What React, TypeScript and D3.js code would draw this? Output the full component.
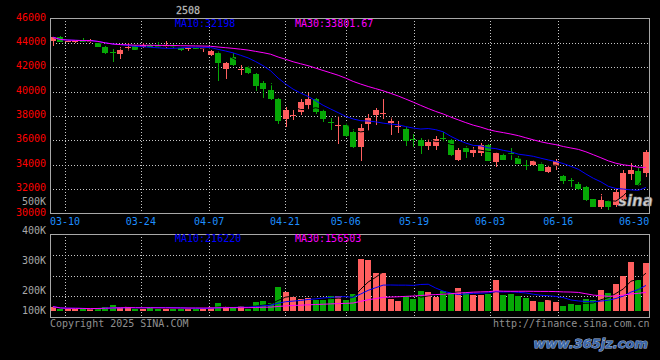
import React, { useEffect } from 'react';
import * as d3 from 'd3';

const dates = [
  '03-06','03-07','03-10','03-11','03-12','03-13','03-14','03-17','03-18','03-19','03-20','03-21','03-24','03-25','03-26','03-27','03-28','03-31',
  '04-01','04-02','04-03','04-07','04-08','04-09','04-10','04-11','04-14','04-15','04-16','04-17','04-18','04-21','04-22','04-23','04-24','04-25','04-28','04-29','04-30',
  '05-06','05-07','05-08','05-09','05-12','05-13','05-14','05-15','05-16','05-19','05-20','05-21','05-22','05-23','05-26','05-27','05-28','05-29','05-30',
  '06-03','06-04','06-05','06-06','06-09','06-10','06-11','06-12','06-13','06-16','06-17','06-18','06-19','06-20','06-23','06-24','06-25','06-26','06-27','06-30',
  '07-01','07-02'
];

const opens = [44141,44500,44100,44050,44250,44050,43950,43700,43250,43080,43570,43750,43650,43850,43800,43650,43850,43550,43550,43600,43500,42970,43190,41880,42880,41780,42010,41470,40700,40160,39420,37730,38040,38350,38880,39370,38390,37480,37200,37240,36690,35460,37320,38050,38250,37430,37130,36960,36100,36000,35520,35520,36200,36070,34430,35380,34970,34970,35600,34230,34840,35000,34590,33990,33960,34100,33410,33880,33060,32770,32460,32180,31180,30500,31010,30690,31230,33220,33470,33330];
const highs = [44500,44560,44250,44250,44400,44300,44150,43720,43500,43650,43980,43850,43950,43900,44100,44120,43900,43600,43700,43650,43650,43400,43300,42400,43200,42150,42100,41500,40840,40700,39450,38740,38520,39370,39860,39450,38550,37830,37980,37400,36900,37380,38200,38650,39370,37950,37590,37100,36500,36180,36100,36330,36690,36150,35400,35520,35460,35790,35680,35030,34940,35380,34700,34370,34370,34200,33880,34450,33140,32950,32570,32240,31220,31590,31100,32080,33550,34150,33700,35190];
const lows = [43731,44050,44050,44000,44050,44000,43650,43100,42420,42640,43300,43400,43600,43650,43600,43600,43600,43350,43300,43500,43250,42950,40840,41060,42100,41390,41450,40050,39470,39290,37380,37100,37640,38050,38530,38200,37480,36830,35740,36250,35400,34310,36770,37240,37790,36420,36600,35540,35460,34900,35250,35250,35870,34700,34300,34590,34640,34700,34290,33820,34370,34370,34040,33550,33880,33470,33300,33550,32400,32180,31900,31050,30520,30330,30270,30520,31100,32730,32240,33000];
const closes = [44469,44080,44150,44140,44100,44200,43700,43160,43130,43440,43650,43450,43850,43700,43650,43850,43650,43450,43620,43550,43560,43320,42340,42340,42150,41820,41520,40440,40240,39370,37590,38470,38080,39150,39370,38330,37730,37420,37240,36330,35460,37020,37840,38470,38280,37560,37160,35950,36040,35520,35870,36090,36090,34780,35250,35050,35250,35600,34310,34970,34430,34950,34100,33960,34290,33500,33820,34290,32650,32730,31970,31100,30550,31100,30550,31780,33330,33610,32320,35050];
const volumes = [37000,14000,19000,21000,17000,14000,26000,35000,50000,35000,45000,17000,19000,30000,21000,19000,17000,23000,17000,26000,23000,35000,65000,42000,28000,42000,19000,73000,81000,70000,199000,160000,118000,98000,106000,95000,95000,123000,123000,90000,140000,437000,428000,322000,322000,104000,84000,123000,101000,168000,160000,118000,168000,160000,193000,160000,132000,132000,140000,258000,132000,140000,123000,109000,81000,76000,90000,76000,39000,62000,48000,98000,90000,174000,151000,224000,291000,411000,258000,403000];

const priceTicks = [46000,44000,42000,40000,38000,36000,34000,32000,30000];
const volTicks = [500000,400000,300000,200000,100000];
const volTickLabels = ['500K','400K','300K','200K','100K'];
const dateTicks = ['03-10','03-24','04-07','04-21','05-06','05-19','06-03','06-16','06-30'];

const title = '2508';
const priceMA10Label = 'MA10:32198';
const priceMA30Label = 'MA30:33801.67';
const volMA10Label = 'MA10:216220';
const volMA30Label = 'MA30:156503';

const RED = '#ff5f5f';
const GREEN = '#06a806';
const FONT = "'DejaVu Sans Mono', monospace";

function movingAvg(arr: number[], n: number): number[] {
  return arr.map((_, i) => d3.mean(arr.slice(Math.max(0, i - n + 1), i + 1)) as number);
}

export default function App() {
  useEffect(() => {
    document.body.style.margin = '0';
    document.body.style.background = '#000';
  }, []);

  const L = 50, R = 649, PT = 18, PB = 213, VT = 234, VB = 317, VBASE = 311;

  const xBand = d3.scaleBand<string>().domain(dates).range([49.15, 649.7]);
  const step = xBand.step();
  const cx = (i: number) => (xBand(dates[i]) as number) + step / 2;
  const gridX = d3.scalePoint<string>().domain(dates).range([49.8, 649.3]);
  const yP = d3.scaleLinear().domain([30000, 46000]).range([PB + 0.5, PT + 0.5]);
  const yV = d3.scaleLinear().domain([0, 650000]).range([VBASE, 233.65]);
  const yVLabel = d3.scaleLinear().domain([200000, 400000]).range([290, 230.7]);

  const ma5 = movingAvg(closes, 5);
  const ma10 = movingAvg(closes, 10);
  const ma30 = movingAvg(closes, 30);
  const vma5 = movingAvg(volumes, 5);
  const vma10 = movingAvg(volumes, 10);
  const vma30 = movingAvg(volumes, 30);

  const lineP = d3.line<number>().x((_, i) => cx(i)).y((d) => yP(d));
  const lineV = d3.line<number>().x((_, i) => cx(i)).y((d) => yV(d));

  const gridColor = '#c8c8c8';
  const frameColor = '#a8a8a8';

  const vGridDates = dateTicks.filter((d) => d !== '06-30');

  return (
    <svg width={660} height={360} style={{ position: 'absolute', left: 0, top: 0, background: '#000' }}>
      <rect x={0} y={0} width={660} height={360} fill="#000" />
      {/* price grid */}
      {priceTicks.slice(1, -1).map((p) => (
        <line key={'hp' + p} x1={L} x2={R} y1={Math.round(yP(p)) + 0.5} y2={Math.round(yP(p)) + 0.5}
          stroke={gridColor} strokeDasharray="1 2" />
      ))}
      {vGridDates.map((d) => (
        <line key={'vp' + d} x1={Math.round(gridX(d) as number) + 0.5} x2={Math.round(gridX(d) as number) + 0.5}
          y1={PT} y2={PB} stroke={gridColor} strokeDasharray="1 2" />
      ))}
      {/* volume grid */}
      {[1, 2, 3].map((k) => {
        const y = Math.round(VT + (k * (VB - VT)) / 4) + 0.5;
        return <line key={'hv' + k} x1={L} x2={R} y1={y} y2={y} stroke={gridColor} strokeDasharray="1 2" />;
      })}
      {vGridDates.map((d) => (
        <line key={'vv' + d} x1={Math.round(gridX(d) as number) + 0.5} x2={Math.round(gridX(d) as number) + 0.5}
          y1={VT} y2={VB} stroke={gridColor} strokeDasharray="1 2" />
      ))}

      {/* sina watermark */}
      <text x={618} y={206} fontFamily="'DejaVu Sans', sans-serif" fontStyle="italic" fontWeight="bold" fontSize={15}
        fill="#d0d0d0" stroke="#808080" strokeWidth={0.6}>sina</text>

      {/* candles */}
      {dates.map((d, i) => {
        const up = closes[i] >= opens[i];
        const color = up ? RED : GREEN;
        const x0 = Math.round(cx(i)) - 3;
        const top = Math.round(yP(Math.max(opens[i], closes[i])));
        const bot = Math.round(yP(Math.min(opens[i], closes[i])));
        const hy = Math.round(yP(highs[i]));
        const ly = Math.round(yP(lows[i]));
        return (
          <g key={'c' + d}>
            <rect x={x0 + 3} y={hy} width={1} height={Math.max(1, ly - hy)} fill={color} shapeRendering="crispEdges" />
            <rect x={x0} y={top} width={6} height={Math.max(1, bot - top)} fill={color} shapeRendering="crispEdges" />
          </g>
        );
      })}
      <path d={lineP(ma5) as string} fill="none" stroke="#000" strokeWidth={1} />
      <path d={lineP(ma10) as string} fill="none" stroke="#0000ff" strokeWidth={1} />
      <path d={lineP(ma30) as string} fill="none" stroke="#ff00ff" strokeWidth={1} />

      {/* volume bars */}
      {dates.map((d, i) => {
        const up = closes[i] >= opens[i];
        const x0 = Math.round(cx(i)) - 3;
        const top = Math.round(yV(volumes[i]));
        return <rect key={'v' + d} x={x0} y={top} width={6} height={Math.max(1, VBASE - top)} fill={up ? RED : GREEN} shapeRendering="crispEdges" />;
      })}
      <path d={lineV(vma5) as string} fill="none" stroke="#000" strokeWidth={1} />
      <path d={lineV(vma10) as string} fill="none" stroke="#0000ff" strokeWidth={1} />
      <path d={lineV(vma30) as string} fill="none" stroke="#ff00ff" strokeWidth={1} />

      {/* frames */}
      <rect x={L + 0.5} y={PT + 0.5} width={R - L} height={PB - PT} fill="none" stroke={frameColor} />
      <rect x={L + 0.5} y={VT + 0.5} width={R - L} height={VB - VT} fill="none" stroke={frameColor} />

      {/* price labels */}
      {priceTicks.map((p) => (
        <text key={'pl' + p} x={46} y={yP(p) - 1.5 + 3.6} textAnchor="end" fontFamily={FONT} fontSize={10} fill="#ff0000">{p}</text>
      ))}
      {volTicks.map((v, k) => (
        <text key={'vl' + v} x={46} y={Math.min(yVLabel(v), 310.5) + 3.6} textAnchor="end" fontFamily={FONT} fontSize={10} fill="#a8a8a8">{volTickLabels[k]}</text>
      ))}
      {dateTicks.map((d) => (
        <text key={'dl' + d} x={gridX(d) as number} y={225.3} textAnchor="middle" fontFamily={FONT} fontSize={10} fill="#1e8fff">{d}</text>
      ))}

      {/* headers */}
      <text x={176} y={13.5} fontFamily={FONT} fontSize={10} fill="#d8d8d8" stroke="#888" strokeWidth={0.3}>{title}</text>
      <text x={175} y={27} fontFamily={FONT} fontSize={10} fill="#0000ff">{priceMA10Label}</text>
      <text x={295} y={27} fontFamily={FONT} fontSize={10} fill="#ff00ff">{priceMA30Label}</text>
      <text x={175} y={242} fontFamily={FONT} fontSize={10} fill="#0000ff">{volMA10Label}</text>
      <text x={295} y={242} fontFamily={FONT} fontSize={10} fill="#ff00ff">{volMA30Label}</text>

      {/* footer */}
      <text x={50} y={327.3} fontFamily={FONT} fontSize={10} fill="#909090">Copyright 2025 SINA.COM</text>
      <text x={649.5} y={327.3} textAnchor="end" fontFamily={FONT} fontSize={10} fill="#909090">http://finance.sina.com.cn</text>

      {/* host watermark */}
      <text x={648} y={348} textAnchor="end" fontFamily="'DejaVu Sans', sans-serif" fontStyle="italic" fontWeight="bold" fontSize={13}
        fill="#3b66a8" stroke="#a9bedc" strokeWidth={1}
        style={{ paintOrder: 'stroke' }}>www.365jz.com</text>
    </svg>
  );
}
